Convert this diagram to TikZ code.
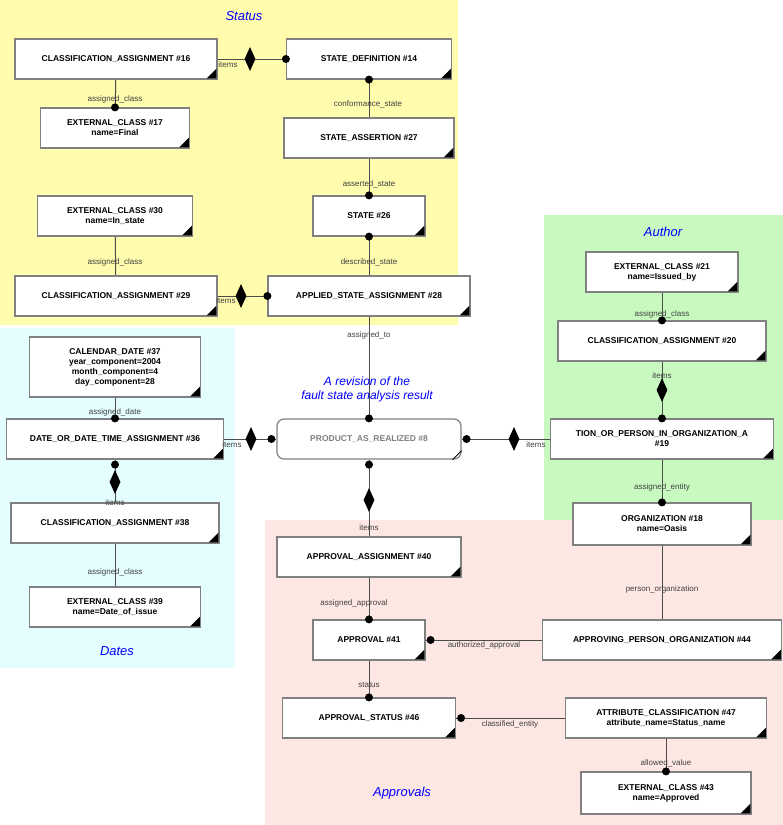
\documentclass[tikz,border=0pt]{standalone}
\usepackage{fontspec}
\setmainfont{Liberation Sans}
\usetikzlibrary{shapes.geometric,backgrounds}

\definecolor{statusbg}{HTML}{FFFCAE}
\definecolor{datesbg}{HTML}{E4FDFE}
\definecolor{authorbg}{HTML}{C8FAC0}
\definecolor{apprbg}{HTML}{FDE7E3}
\definecolor{boxline}{HTML}{808080}

\tikzset{
  ent/.style={draw=boxline, line width=1.2pt, fill=white, minimum height=40pt,
    font=\fontsize{8.5}{10}\selectfont\bfseries, align=center, inner sep=2pt},
  inst/.style={draw=boxline, line width=1.2pt, fill=white, rounded corners=7pt,
    minimum height=40pt, text=boxline, font=\fontsize{8.5}{10}\selectfont\bfseries},
  role/.style={font=\fontsize{8}{9.5}\selectfont, text=black!75, inner sep=1pt},
  title/.style={font=\fontsize{13}{15}\selectfont\itshape, text=blue, align=center},
  agg/.style={diamond, fill=black, inner sep=0pt, minimum width=11pt, minimum height=24pt},
  link/.style={draw=black!70, line width=1pt}
}
\newcommand{\dotat}[1]{\fill (#1) circle (4pt);}

\begin{document}
\begin{tikzpicture}[x=1pt, y=-1pt]
\useasboundingbox (0,0) rectangle (783,825);

\node[title] (tstatus) at (244,16) {Status};
\node[title] (tauthor) at (663,232) {Author};
\node[title] (tdates) at (117,651) {Dates};
\node[title] (tappr) at (402,793) {Approvals};
\node[title, font=\fontsize{12}{14}\selectfont\itshape] (tpar) at (367,389) {A revision of the\\fault state analysis result};

\node[ent, minimum width=202pt] (ca16) at (116,59) {CLASSIFICATION\_ASSIGNMENT \#16};
\node[ent, minimum width=165pt] (sd14) at (369,59) {STATE\_DEFINITION \#14};
\node[ent, minimum width=149pt] (ec17) at (115,128) {EXTERNAL\_CLASS \#17\\name=Final};
\node[ent, minimum width=170pt] (sa27) at (369,138) {STATE\_ASSERTION \#27};
\node[ent, minimum width=155pt] (ec30) at (115,216) {EXTERNAL\_CLASS \#30\\name=In\_state};
\node[ent, minimum width=112pt] (st26) at (369,216) {STATE \#26};
\node[ent, minimum width=202pt] (ca29) at (116,296) {CLASSIFICATION\_ASSIGNMENT \#29};
\node[ent, minimum width=202pt] (asa28) at (369,296) {APPLIED\_STATE\_ASSIGNMENT \#28};
\node[ent, minimum width=171pt, minimum height=60pt] (cd37) at (115,367) {CALENDAR\_DATE \#37\\year\_component=2004\\month\_component=4\\day\_component=28};
\node[ent, minimum width=217pt] (dd36) at (115,439) {DATE\_OR\_DATE\_TIME\_ASSIGNMENT \#36};
\node[ent, minimum width=208pt] (ca38) at (115,523) {CLASSIFICATION\_ASSIGNMENT \#38};
\node[ent, minimum width=171pt] (ec39) at (115,607) {EXTERNAL\_CLASS \#39\\name=Date\_of\_issue};
\node[inst, minimum width=184pt] (par8) at (369,439) {PRODUCT\_AS\_REALIZED \#8};
\node[ent, minimum width=152pt] (ec21) at (662,272) {EXTERNAL\_CLASS \#21\\name=Issued\_by};
\node[ent, minimum width=208pt] (ca20) at (662,341) {CLASSIFICATION\_ASSIGNMENT \#20};
\node[ent, minimum width=223pt] (po19) at (662,439) {TION\_OR\_PERSON\_IN\_ORGANIZATION\_A\\\#19};
\node[ent, minimum width=178pt, minimum height=42pt] (org18) at (662,524) {ORGANIZATION \#18\\name=Oasis};
\node[ent, minimum width=184pt] (aa40) at (369,557) {APPROVAL\_ASSIGNMENT \#40};
\node[ent, minimum width=112pt] (ap41) at (369,640) {APPROVAL \#41};
\node[ent, minimum width=239pt] (apo44) at (662,640) {APPROVING\_PERSON\_ORGANIZATION \#44};
\node[ent, minimum width=173pt] (as46) at (369,718) {APPROVAL\_STATUS \#46};
\node[ent, minimum width=201pt] (ac47) at (666,718) {ATTRIBUTE\_CLASSIFICATION \#47\\attribute\_name=Status\_name};
\node[ent, minimum width=170pt, minimum height=42pt] (ec43) at (666,793) {EXTERNAL\_CLASS \#43\\name=Approved};
\draw[line width=0.8pt] ([xshift=-9pt]par8.south east) -- ([yshift=9pt]par8.south east);

% corner marks
\foreach \n in {ca16,sd14,ec17,sa27,ec30,st26,ca29,asa28,cd37,dd36,ca38,ec39,ec21,ca20,po19,org18,aa40,ap41,apo44,as46,ac47,ec43}
  \fill ([shift={(-1.2pt,1.2pt)}]\n.south east) -- ([shift={(-11pt,1.2pt)}]\n.south east) -- ([shift={(-1.2pt,11pt)}]\n.south east) -- cycle;

% group backgrounds and links behind the boxes
\begin{scope}[on background layer]
\fill[statusbg] (0,0) rectangle (458,325);
\fill[datesbg] (0,328) rectangle (235,668);
\fill[authorbg] (544,215) rectangle (783,520);
\fill[apprbg] (265,520) rectangle (783,825);
\foreach \from/\to in {ca16/sd14, sd14/sa27, ca16/ec17, sa27/st26, ec30/ca29, ca29/asa28, asa28/st26, asa28/par8, cd37/dd36, dd36/par8, dd36/ca38, ca38/ec39, par8/po19, ec21/ca20, ca20/po19, po19/org18, org18/apo44, par8/aa40, aa40/ap41, apo44/ap41, ap41/as46, ac47/as46, ac47/ec43}
  \path[link] (\from) -- (\to);
\end{scope}

% aggregation diamonds
\coordinate (d1) at (250,59);
\coordinate (d6) at (241,296);
\coordinate (d10) at (251,439);
\coordinate (d11) at (115,482);
\coordinate (d13) at (514,439);
\coordinate (d15) at (662,390);
\coordinate (d18) at (369,500);
\foreach \d in {d1,d6,d10,d11,d13,d15,d18}
  \node[agg] at (\d) {};

% role ends
\dotat{sd14.west} \dotat{sd14.south} \dotat{ec17.north} \dotat{st26.north}
\dotat{asa28.west} \dotat{st26.south} \dotat{par8.north} \dotat{dd36.north}
\dotat{[xshift=-5pt]par8.west} \dotat{[yshift=-5pt]dd36.south} \dotat{[xshift=5pt]par8.east}
\dotat{ca20.north} \dotat{po19.north} \dotat{org18.north} \dotat{[yshift=-5pt]par8.south}
\dotat{ap41.north} \dotat{[xshift=5pt]ap41.east} \dotat{as46.north} \dotat{[xshift=5pt]as46.east}
\dotat{ec43.north}

% role names
\node[role] (r1) at (228,65) {items};
\node[role] (r2) at (368,104) {conformance\_state};
\node[role] (r3) at (115,99) {assigned\_class};
\node[role] (r4) at (369,184) {asserted\_state};
\node[role] (r5) at (115,262) {assigned\_class};
\node[role] (r6) at (226,301) {items};
\node[role] (r7) at (369,262) {described\_state};
\node[role] (r8) at (369,335) {assigned\_to};
\node[role] (r9) at (115,412) {assigned\_date};
\node[role] (r10) at (232,445) {items};
\node[role] (r11) at (115,503) {items};
\node[role] (r12) at (115,572) {assigned\_class};
\node[role] (r13) at (536,445) {items};
\node[role] (r14) at (662,314) {assigned\_class};
\node[role] (r15) at (662,376) {items};
\node[role] (r16) at (662,487) {assigned\_entity};
\node[role] (r17) at (662,589) {person\_organization};
\node[role] (r18) at (369,528) {items};
\node[role] (r19) at (354,603) {assigned\_approval};
\node[role] (r20) at (484,645) {authorized\_approval};
\node[role] (r21) at (369,685) {status};
\node[role] (r22) at (510,724) {classified\_entity};
\node[role] (r23) at (666,763) {allowed\_value};
\end{tikzpicture}
\end{document}
